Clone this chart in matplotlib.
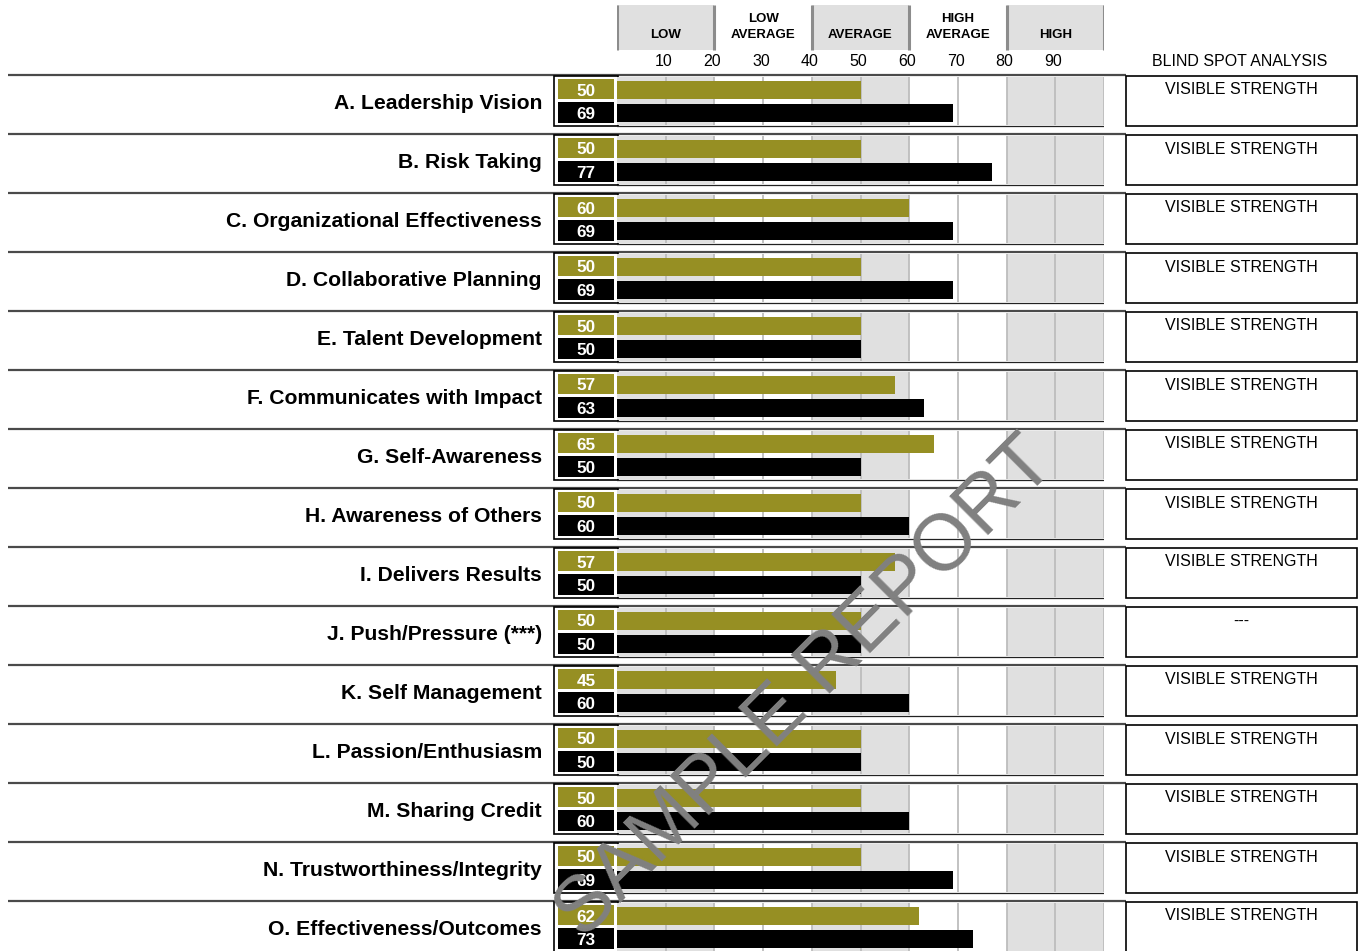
import matplotlib
matplotlib.use("Agg")
import matplotlib.pyplot as plt
from matplotlib.patches import Rectangle

plt.rcParams['font.family'] = ['Liberation Sans', 'DejaVu Sans']

# ---------------- data ----------------
categories = [
    "A. Leadership Vision", "B. Risk Taking", "C. Organizational Effectiveness",
    "D. Collaborative Planning", "E. Talent Development", "F. Communicates with Impact",
    "G. Self-Awareness", "H. Awareness of Others", "I. Delivers Results",
    "J. Push/Pressure (***)", "K. Self Management", "L. Passion/Enthusiasm",
    "M. Sharing Credit", "N. Trustworthiness/Integrity", "O. Effectiveness/Outcomes",
]
self_scores = [50, 50, 60, 50, 50, 57, 65, 50, 57, 50, 45, 50, 50, 50, 62]
other_scores = [69, 77, 69, 69, 50, 63, 50, 60, 50, 50, 60, 50, 60, 69, 73]
blind_spot = ["VISIBLE STRENGTH"] * 9 + ["---"] + ["VISIBLE STRENGTH"] * 5
band_labels = ["LOW", "LOW\nAVERAGE", "AVERAGE", "HIGH\nAVERAGE", "HIGH"]
tick_values = [10, 20, 30, 40, 50, 60, 70, 80, 90]
watermark = "SAMPLE REPORT"

# ---------------- style ----------------
OLIVE = "#968F23"
BAND_GREY = "#E0E0E0"
GRID_GREY = "#BDBDBD"
W, H = 1360, 951
X0, X1 = 617, 1104          # pixel extent of the 0..100 scale
ROW_TOP0, ROW_STEP = 75, 59

fig = plt.figure(figsize=(W / 100, H / 100), dpi=100)
fig.patch.set_facecolor("white")

ov = fig.add_axes([0, 0, 1, 1])
ov.set_xlim(0, W)
ov.set_ylim(H, 0)
ov.axis("off")

bx = fig.add_axes([X0 / W, 0, (X1 - X0) / W, 1])
bx.set_xlim(0, 100)
bx.set_ylim(H, 0)
bx.axis("off")
bx.patch.set_alpha(0)

# ---------------- header ----------------
for k, lab in enumerate(band_labels):
    lo = k * 20
    if k % 2 == 0:
        bx.add_patch(Rectangle((lo, 5), 20, 45, facecolor=BAND_GREY, edgecolor="none", zorder=1))
    lines = lab.split("\n")
    if len(lines) == 1:
        bx.text(lo + 10, 34.5, lines[0], ha="center", va="center", fontsize=9.5, fontweight="bold", zorder=3)
    else:
        bx.text(lo + 10, 18.5, lines[0], ha="center", va="center", fontsize=9.5, fontweight="bold", zorder=3)
        bx.text(lo + 10, 34.5, lines[1], ha="center", va="center", fontsize=9.5, fontweight="bold", zorder=3)
bx.vlines([0, 20, 40, 60, 80, 100], 5, 50, color="#8C8C8C", lw=2.2, zorder=2)

for t in tick_values:
    bx.text(t - 0.4, 62, str(t), ha="center", va="center", fontsize=11.5, zorder=3)

ov.text(1240, 62, "BLIND SPOT ANALYSIS", ha="center", va="center", fontsize=11.5)

# ---------------- rows ----------------
n = len(categories)
row_tops = [ROW_TOP0 + ROW_STEP * i for i in range(n)]
self_centers = [s + 14.5 for s in row_tops]
other_centers = [s + 38 for s in row_tops]

for i, s in enumerate(row_tops):
    # separator
    ov.plot([8, 1126], [s, s], color="#4A4A4A", lw=1.6, solid_capstyle="butt", zorder=2)
    # band backgrounds + grid
    for lo in (0, 40, 80):
        bx.add_patch(Rectangle((lo, s + 1.5), 20, 48.5, facecolor=BAND_GREY, edgecolor="none", zorder=1))
    bx.vlines(list(range(10, 101, 10)), s + 1.5, s + 50, color=GRID_GREY, lw=1.3, zorder=1.5)
    bx.plot([0, 100], [s + 51, s + 51], color="#222222", lw=0.9, zorder=2)
    # category label
    ov.text(542, s + 28.5, categories[i], ha="right", va="center", fontsize=15.2, fontweight="bold")
    # value box
    ov.add_patch(Rectangle((553.5, s + 0.5), 64, 50.5, facecolor="white", edgecolor="black", lw=1.2, zorder=3))
    ov.add_patch(Rectangle((558, s + 4), 56, 20, facecolor=OLIVE, edgecolor="none", zorder=4))
    ov.add_patch(Rectangle((558, s + 26.7), 56, 21.6, facecolor="black", edgecolor="none", zorder=4))
    ov.text(586, s + 16, str(self_scores[i]), ha="center", va="center", color="white",
            fontsize=12.3, fontweight="bold", zorder=5)
    ov.text(586, s + 39.5, str(other_scores[i]), ha="center", va="center", color="white",
            fontsize=12.3, fontweight="bold", zorder=5)
    # blind spot box
    ov.add_patch(Rectangle((1126, s + 0.8), 231, 50.5, facecolor="white", edgecolor="black", lw=1.2, zorder=3))
    ov.text(1241, s + 15, blind_spot[i], ha="center", va="center", fontsize=11.5, zorder=4)

bx.barh(self_centers, self_scores, height=18, left=0, color=OLIVE, zorder=3)
bx.barh(other_centers, other_scores, height=18.5, left=0, color="black", zorder=3)

# ---------------- watermark ----------------
fig.text(1058, 466, watermark, transform=ov.transData, rotation=45, rotation_mode="anchor",
         ha="right", va="baseline", fontsize=57, color="#808080", zorder=10)

fig.savefig("out.png", dpi=100)
